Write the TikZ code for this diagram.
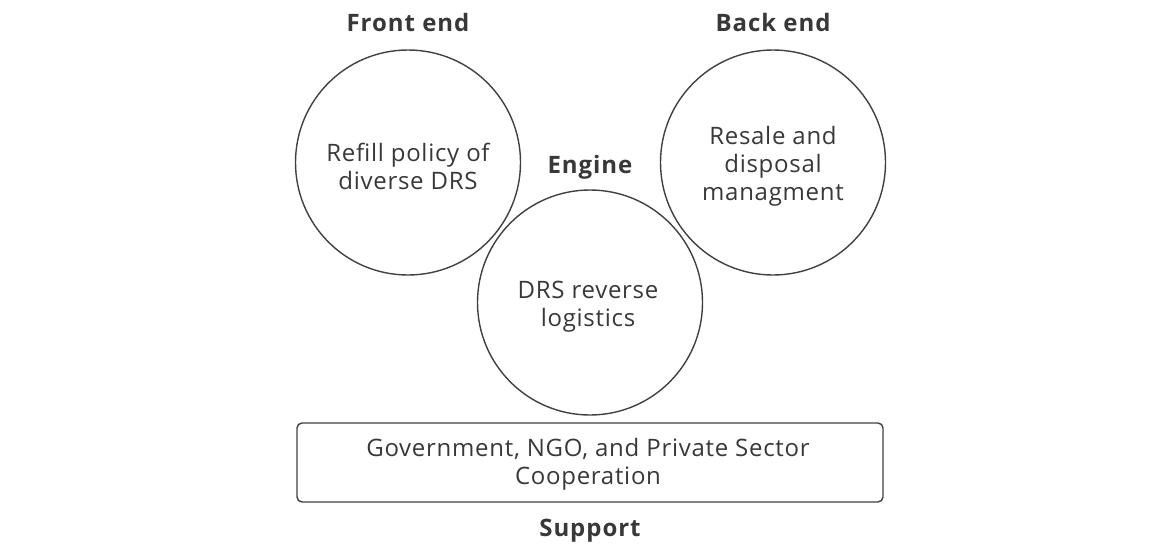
\documentclass[tikz,border=0pt]{standalone}
\usepackage{fontspec}
\setmainfont{Open Sans}
\newfontfamily\bodyfont[LetterSpace=3]{Open Sans}
\newfontfamily\headfont[LetterSpace=4]{Open Sans}
\begin{document}
\begin{tikzpicture}[x=1pt,y=-1pt,
  ring/.style={draw=black!75, line width=1.4pt, circle, minimum size=225pt, inner sep=0pt},
  body/.style={text=black!78, font=\bodyfont\fontsize{24}{28}\selectfont, align=center},
  head/.style={text=black!78, font=\headfont\fontsize{24}{28}\selectfont\bfseries},
  panel/.style={draw=black!75, line width=1.4pt, rounded corners=5pt}]
\useasboundingbox (0,0) rectangle (1165,546);
% three circles
\node[ring] (front) at (408,162.5) {};
\node[ring] (back)  at (773,162.5) {};
\node[ring] (engine) at (590,302.5) {};
\node[body] (fronttxt) at (408,166) {Refill policy of\\diverse DRS};
\node[body] (backtxt) at (773,166) {Resale and\\disposal\\managment};
\node[body] (enginetxt) at (588,307) {DRS reverse\\logistics};
% support panel
\draw[panel] (297,423) rectangle (883,502);
\node[body] (supporttxt) at (588,464) {Government, NGO, and Private Sector\\Cooperation};
% headings
\node[head] (fronthead) at (408,22) {Front end};
\node[head] (backhead) at (773,22) {Back end};
\node[head] (enginehead) at (590,167) {Engine};
\node[head] (supporthead) at (590,531) {Support};
\end{tikzpicture}
\end{document}
